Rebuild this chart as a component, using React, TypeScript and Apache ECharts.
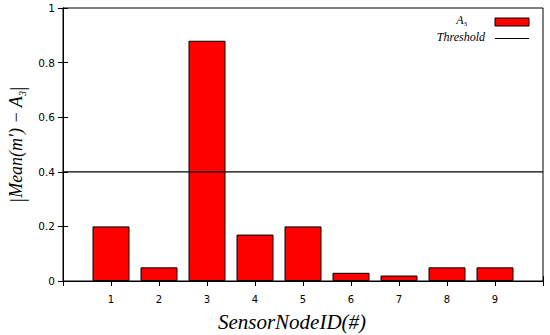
import React, { useEffect, useRef } from "react";
import * as echarts from "echarts";

const nodeIds = [1, 2, 3, 4, 5, 6, 7, 8, 9];
const a3Values = [0.2, 0.05, 0.88, 0.17, 0.2, 0.03, 0.02, 0.05, 0.05];
const thresholdValue = 0.4;
const xRange = [0, 10];
const yTicks = [0, 0.2, 0.4, 0.6, 0.8, 1];
const legendLabels = ["A3", "Threshold"];

const serif = "'Liberation Serif', 'DejaVu Serif', serif";
const sans = "'DejaVu Sans', 'Liberation Sans', sans-serif";

export default function App() {
  const ref = useRef<HTMLDivElement>(null);
  useEffect(() => {
    if (!ref.current) return;
    const chart = echarts.init(ref.current, undefined, { renderer: "svg" });
    const axisLine = { show: true, lineStyle: { color: "#000", width: 1 } };
    const tick = { show: true, inside: true, length: 5, lineStyle: { color: "#000", width: 1 } };
    chart.setOption({
      animation: false,
      backgroundColor: "#fff",
      grid: {
        left: 63,
        right: 7,
        top: 8,
        bottom: 54,
        containLabel: false,
        outerBoundsMode: "none",
        show: true,
        borderColor: "#000",
        borderWidth: 1,
      },
      graphic: [
        {
          type: "text",
          right: 83,
          top: 14,
          style: {
            text: "{i|A}{s|3}",
            rich: {
              i: { fontFamily: serif, fontStyle: "italic", fontSize: 12, fill: "#000" },
              s: { fontFamily: serif, fontSize: 7, fill: "#000", verticalAlign: "bottom", padding: [7, 0, 0, 0] },
            },
          },
        },
        {
          type: "rect",
          shape: { x: 495, y: 18, width: 34, height: 8 },
          style: { fill: "#ff0000", stroke: "#000", lineWidth: 1 },
        },
        {
          type: "text",
          right: 65,
          top: 31,
          style: {
            text: legendLabels[1],
            fontFamily: serif,
            fontStyle: "italic",
            fontSize: 12,
            fill: "#000",
          },
        },
        {
          type: "line",
          shape: { x1: 495, y1: 38.5, x2: 529, y2: 38.5 },
          style: { stroke: "#000", lineWidth: 1.2 },
        },
      ],
      xAxis: [
        {
          type: "value",
          min: xRange[0],
          max: xRange[1],
          interval: 1,
          position: "bottom",
          axisLine,
          axisTick: tick,
          splitLine: { show: false },
          axisLabel: {
            margin: 13,
            fontFamily: sans,
            fontSize: 10,
            color: "#000",
            formatter: (v: number) => (nodeIds.includes(v) ? String(v) : ""),
          },
          name: "SensorNodeID(#)",
          nameLocation: "middle",
          nameGap: 30,
          nameTextStyle: {
            fontFamily: serif,
            fontStyle: "italic",
            fontSize: 21,
            color: "#000",
            padding: [0, 22, 0, 0],
          },
        },
        {
          type: "value",
          min: xRange[0],
          max: xRange[1],
          interval: 1,
          position: "top",
          axisLine,
          axisTick: tick,
          axisLabel: { show: false },
          splitLine: { show: false },
        },
      ],
      yAxis: [
        {
          type: "value",
          min: yTicks[0],
          max: yTicks[yTicks.length - 1],
          interval: 0.2,
          position: "left",
          axisLine,
          axisTick: tick,
          splitLine: { show: false },
          axisLabel: { margin: 8, fontFamily: sans, fontSize: 10.5, color: "#000" },
          name: "{b||}{i|Mean(m′) − A}{s|3}{b||}",
          nameLocation: "middle",
          nameRotate: 90,
          nameGap: 35,
          nameTextStyle: {
            color: "#000",
            rich: {
              b: { fontFamily: serif, fontSize: 22, color: "#000" },
              i: { fontFamily: serif, fontStyle: "italic", fontSize: 18, color: "#000" },
              s: { fontFamily: serif, fontStyle: "italic", fontSize: 10, color: "#000", verticalAlign: "bottom", padding: [8, 0, 0, 0] },
            },
          },
        },
        {
          type: "value",
          min: yTicks[0],
          max: yTicks[yTicks.length - 1],
          interval: 0.2,
          position: "right",
          axisLine,
          axisTick: tick,
          axisLabel: { show: false },
          splitLine: { show: false },
        },
      ],
      series: [
        {
          name: legendLabels[0],
          type: "bar",
          xAxisIndex: 0,
          yAxisIndex: 0,
          barWidth: 37,
          data: nodeIds.map((id, i) => [id, a3Values[i]]),
          itemStyle: { color: "#ff0000", borderColor: "#000", borderWidth: 1 },
        },
        {
          name: legendLabels[1],
          type: "line",
          xAxisIndex: 0,
          yAxisIndex: 0,
          symbol: "none",
          data: [
            [xRange[0], thresholdValue],
            [xRange[1], thresholdValue],
          ],
          lineStyle: { color: "#000", width: 1.2 },
          z: 3,
        },
      ],
    });
    return () => chart.dispose();
  }, []);
  return <div ref={ref} style={{ position: "fixed", left: 0, top: 0, width: 550, height: 335 }} />;
}
